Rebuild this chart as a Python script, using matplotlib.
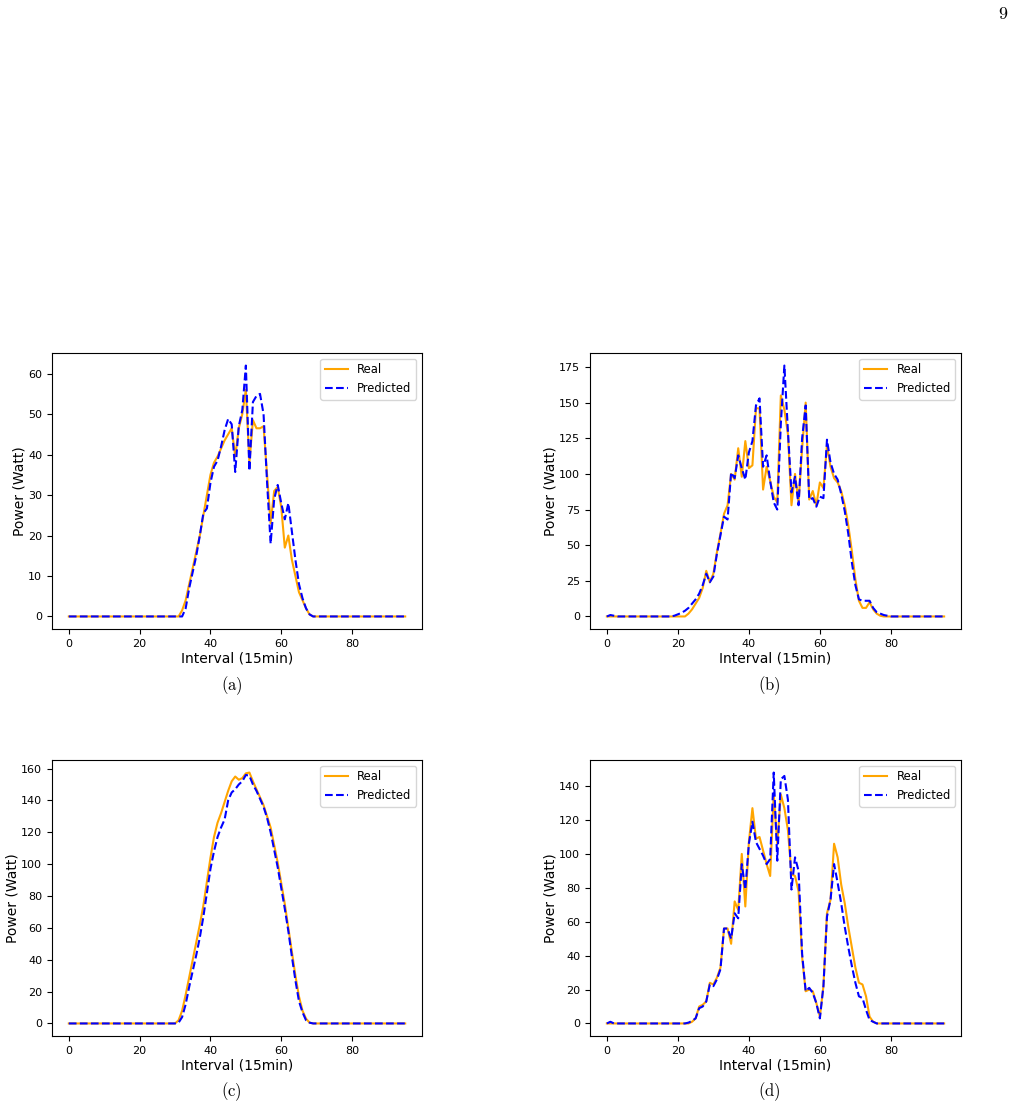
import matplotlib
matplotlib.use("Agg")
import matplotlib.pyplot as plt

plt.rcParams['mathtext.fontset'] = 'cm'

intervals = list(range(96))

# (a)
real_a = [0] * 32 + [1.5, 4, 8, 12, 16, 20, 25, 30, 35, 38, 39.5, 41.5, 43.5, 45, 46.5, 39.5,
                     46.5, 50, 56, 38, 48.5, 46.5, 46.5, 47, 35, 23, 31, 32, 27, 17, 20, 14,
                     10, 6, 4, 2, 0.5] + [0] * 27
pred_a = [0] * 33 + [2, 7, 11, 15, 20, 25.5, 26.7, 33, 37, 38.5, 42, 46, 48.8, 47.5, 35.7, 47,
                     51, 62, 36, 53, 54.5, 55, 50, 33, 18, 29, 32.5, 28, 24, 28, 21, 14, 8,
                     4.5, 2, 0.5] + [0] * 27

# (b)
real_b = [0] * 23 + [2, 5, 9, 13, 20, 32, 24, 30, 45, 58, 72, 78, 100, 96, 118, 98, 123, 104,
                     106, 146, 146, 89, 105, 95, 84, 80, 155, 145, 128, 78, 100, 80, 118, 150,
                     82, 88, 78, 94, 90, 120, 105, 97, 94, 88, 78, 64, 46, 26, 11, 6, 6, 10, 5,
                     2, 0.5] + [0] * 18
pred_b = [0, 1, 0.5] + [0] * 16 + [0.5, 1.5, 2.5, 4, 6, 9, 12, 16, 22, 30, 24, 28, 44, 57, 70,
                                   68, 101, 97, 113, 104, 96, 115, 123, 148, 153, 105, 113, 95,
                                   80, 75, 135, 176, 130, 87, 98, 78, 125, 148, 82, 83, 77, 84,
                                   83, 124, 108, 100, 96, 86, 74, 58, 38, 22, 12, 11, 11, 11, 6,
                                   3, 2, 1, 0.5] + [0] * 16

# (c)
real_c = [0] * 31 + [2, 8, 18, 29, 40, 51, 62, 74, 89, 104, 117, 126, 132, 139, 146, 152, 155,
                     153, 154, 157, 157.5, 152, 147, 142, 137, 130, 123, 112, 101, 88, 75, 60,
                     45, 30, 17, 8, 3, 0.5] + [0] * 27
pred_c = [0] * 31 + [0.5, 4, 12, 23, 33, 43, 54, 67, 82, 97, 108, 117, 123, 128, 140, 145, 147,
                     150, 152, 156, 155.5, 150, 146, 141, 136, 129, 120, 109, 98, 85, 72, 58,
                     42, 27, 14, 7, 2, 0.5] + [0] * 27

# (d)
real_d = [0] * 24 + [1, 3, 10, 11, 13, 24, 23, 27, 33, 56, 56, 47, 72, 67, 100, 69, 107, 127,
                     109, 110, 102, 94, 87, 135, 106, 135, 127, 114, 88, 87, 78, 39, 19, 20, 19,
                     12, 4, 22, 65, 73, 106, 98, 82, 71, 57, 45, 33, 24, 23, 16, 4, 1] + [0] * 20
pred_d = [0, 1] + [0] * 21 + [0.5, 1.5, 3, 9, 10, 13, 23, 22, 26, 32, 56, 56, 50, 65, 62, 94, 79,
                              106, 119, 107, 103, 99, 94, 97, 148, 96, 144, 146, 132, 79, 98, 90,
                              41, 19, 21, 18, 12, 3, 22, 63, 73, 94, 83, 71, 57, 45, 34, 24, 16,
                              15, 8, 2, 1] + [0] * 20

panels = [
    (real_a, pred_a, "(a)"),
    (real_b, pred_b, "(b)"),
    (real_c, pred_c, "(c)"),
    (real_d, pred_d, "(d)"),
]

W, H = 1014, 1107
fig = plt.figure(figsize=(W / 100, H / 100), dpi=100)

# axes boxes in pixels: left, top, right, bottom
boxes = [(52, 353, 422, 629), (590, 353, 961, 629),
         (52, 760, 422, 1036), (590, 760, 961, 1036)]
captions = [(232, 686), (769, 686), (231, 1092), (769, 1092)]

for (real, pred, tag), (l, t, r, b), (cx, cy) in zip(panels, boxes, captions):
    ax = fig.add_axes([l / W, 1 - b / H, (r - l) / W, (b - t) / H])
    ax.plot(intervals, real, color='orange', label='Real')
    ax.plot(intervals, pred, color='blue', linestyle='--', label='Predicted')
    ax.set_xlabel("Interval (15min)", fontsize=10, labelpad=2)
    ax.set_ylabel("Power (Watt)", fontsize=10, labelpad=1)
    ax.tick_params(labelsize=8)
    ax.legend(loc='upper right', fontsize=8.3)
    fig.text(cx / W, 1 - cy / H, r"$\mathrm{" + tag + "}$", ha='center', va='center', fontsize=12)

fig.text(1003 / W, 1 - 14 / H, r"$\mathrm{9}$", ha='center', va='center', fontsize=13)

fig.savefig("out.png", dpi=100)
